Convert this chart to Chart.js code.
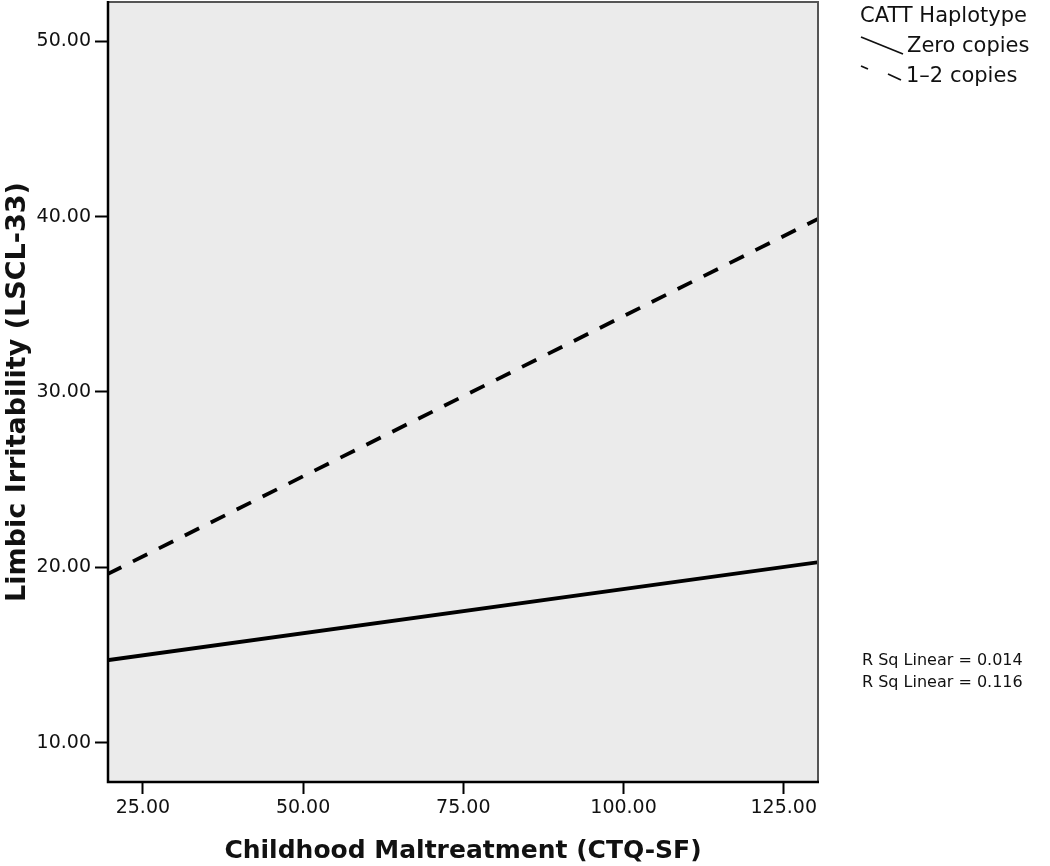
<!DOCTYPE html>
<html>
<head>
<meta charset="utf-8">
<script src="https://cdn.jsdelivr.net/npm/chart.js@4"></script>
<style>
  html, body { margin: 0; padding: 0; background: #fff; }
  #wrap { width: 1050px; height: 866px; position: relative; }
</style>
</head>
<body>
<div id="wrap"><canvas id="chart"></canvas></div>
<script>
// fit lines (endpoints)
const xRange = [19.4, 130.5];
const zeroCopies = [14.7, 20.3];
const oneTwoCopies = [19.6, 39.9];
const xTicks = [25, 50, 75, 100, 125];
const yTicks = [10, 20, 30, 40, 50];
const legendTitle = 'CATT Haplotype';
const seriesNames = ['Zero copies', '1\u20132 copies'];
const rSquared = ['0.014', '0.116'];

const FONT = '"DejaVu Sans", sans-serif';

// grey plot background + frame
const plotFrame = {
    id: 'plotFrame',
    beforeDraw(chart) {
        const { ctx, chartArea: a } = chart;
        ctx.save();
        ctx.fillStyle = '#ebebeb';
        ctx.fillRect(a.left, a.top, a.right - a.left, a.bottom - a.top);
        ctx.restore();
    },
    afterDraw(chart) {
        const { ctx, chartArea: a } = chart;
        ctx.save();
        ctx.strokeStyle = '#555';
        ctx.lineWidth = 2;
        ctx.beginPath();
        ctx.moveTo(a.left, a.top + 1);
        ctx.lineTo(a.right - 1, a.top + 1);
        ctx.lineTo(a.right - 1, a.bottom);
        ctx.stroke();
        ctx.strokeStyle = '#000';
        ctx.lineWidth = 2.5;
        ctx.beginPath();
        ctx.moveTo(a.left + 1, a.top);
        ctx.lineTo(a.left + 1, a.bottom - 1);
        ctx.lineTo(a.right, a.bottom - 1);
        ctx.stroke();
        ctx.restore();
    }
};

// legend + R sq text on the right
const sideNotes = {
    id: 'sideNotes',
    afterDraw(chart) {
        const { ctx, chartArea: a } = chart;
        const x0 = a.right + 41;
        ctx.save();
        ctx.fillStyle = '#111';
        ctx.textBaseline = 'middle';
        ctx.font = '21px ' + FONT;
        ctx.fillText(legendTitle, x0, 17);
        ctx.fillText(seriesNames[0], x0 + 47, 47);
        ctx.fillText(seriesNames[1], x0 + 46, 77);

        ctx.strokeStyle = '#111';
        ctx.lineWidth = 1.8;
        ctx.beginPath();
        ctx.moveTo(x0 + 1, 37);
        ctx.lineTo(x0 + 43, 54);
        ctx.stroke();
        ctx.beginPath();
        ctx.moveTo(x0 + 1, 66);
        ctx.lineTo(x0 + 8, 69);
        ctx.moveTo(x0 + 28, 74);
        ctx.lineTo(x0 + 41, 80);
        ctx.stroke();

        ctx.font = '16px ' + FONT;
        ctx.fillText('R Sq Linear = ' + rSquared[0], x0 + 2, 661);
        ctx.fillText('R Sq Linear = ' + rSquared[1], x0 + 2, 683);
        ctx.restore();
    }
};

const ctx = document.getElementById('chart').getContext('2d');
new Chart(ctx, {
    type: 'scatter',
    data: {
        datasets: [
            {
                label: seriesNames[0],
                data: xRange.map((x, i) => ({ x: x, y: zeroCopies[i] })),
                showLine: true,
                borderColor: '#000',
                borderWidth: 3.8,
                pointRadius: 0
            },
            {
                label: seriesNames[1],
                data: xRange.map((x, i) => ({ x: x, y: oneTwoCopies[i] })),
                showLine: true,
                borderColor: '#000',
                borderWidth: 3.8,
                borderDash: [16, 13],
                pointRadius: 0
            }
        ]
    },
    options: {
        responsive: true,
        maintainAspectRatio: false,
        animation: false,
        layout: { padding: { left: 0, right: 231, top: 1, bottom: 0 } },
        plugins: {
            legend: { display: false },
            tooltip: { enabled: false }
        },
        scales: {
            x: {
                type: 'linear',
                min: xRange[0],
                max: xRange[1],
                afterBuildTicks: s => { s.ticks = xTicks.map(v => ({ value: v })); },
                afterFit: s => { s.height = 83; s.paddingLeft = 0; s.paddingRight = 0; },
                grid: { drawOnChartArea: false, tickLength: 11, tickColor: '#000', tickWidth: 2 },
                border: { display: false },
                ticks: {
                    color: '#111',
                    font: { family: FONT, size: 19 },
                    padding: 3,
                    maxRotation: 0,
                    callback: v => v.toFixed(2)
                },
                title: {
                    display: true,
                    text: 'Childhood Maltreatment (CTQ-SF)',
                    color: '#111',
                    font: { family: FONT, size: 25, weight: 'bold' },
                    padding: { top: 8, bottom: 0 }
                }
            },
            y: {
                min: 7.7,
                max: 52.3,
                afterBuildTicks: s => { s.ticks = yTicks.map(v => ({ value: v })); },
                afterFit: s => { s.width = 107; s.paddingTop = 0; s.paddingBottom = 0; },
                grid: { drawOnChartArea: false, tickLength: 12, tickColor: '#000', tickWidth: 2 },
                border: { display: false },
                ticks: {
                    color: '#111',
                    font: { family: FONT, size: 19 },
                    padding: 4,
                    callback: v => v.toFixed(2)
                },
                title: {
                    display: true,
                    text: 'Limbic Irritability (LSCL-33)',
                    color: '#111',
                    font: { family: FONT, size: 27, weight: 'bold' },
                    padding: { top: 2, bottom: 0 }
                }
            }
        }
    },
    plugins: [plotFrame, sideNotes]
});
</script>
</body>
</html>
